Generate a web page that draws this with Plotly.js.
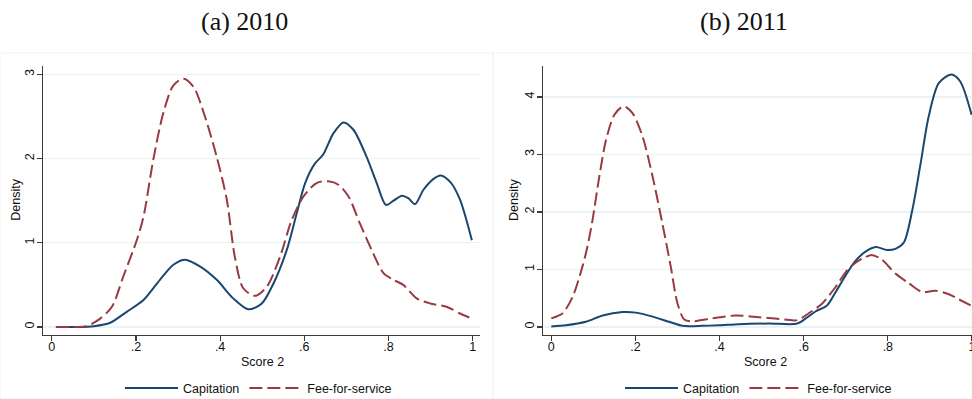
<!DOCTYPE html>
<html>
<head>
<meta charset="utf-8">
<script src="https://cdn.plot.ly/plotly-3.0.1.min.js"></script>
<style>html,body{margin:0;padding:0;background:#fff;}#chart{width:972px;height:399px;}</style>
</head>
<body>
<div id="chart"></div>
<script>
// ---- Data (kernel density curves) ----
const panelTitles = ["(a) 2010", "(b) 2011"];
const seriesNames = ["Capitation", "Fee-for-service"];
const xTitle = "Score 2";
const yTitle = "Density";
const xTickVals = [0, 0.2, 0.4, 0.6, 0.8, 1];
const xTickText = ["0", ".2", ".4", ".6", ".8", "1"];
const yTickVals2010 = [0, 1, 2, 3];
const yTickVals2011 = [0, 1, 2, 3, 4];

// 2010 Capitation
const cap2010X = [0.01,0.06,0.10,0.139,0.178,0.218,0.257,0.289,0.317,0.352,0.392,0.431,0.467,0.499,0.527,0.558,0.582,0.602,0.625,0.645,0.669,0.693,0.717,0.748,0.772,0.794,0.812,0.832,0.847,0.863,0.883,0.907,0.924,0.947,0.970,0.998];
const cap2010Y = [0.0,0.0,0.01,0.05,0.18,0.32,0.56,0.74,0.80,0.72,0.56,0.34,0.21,0.28,0.52,0.91,1.35,1.71,1.94,2.05,2.30,2.43,2.34,2.02,1.71,1.45,1.50,1.56,1.53,1.46,1.63,1.76,1.80,1.72,1.51,1.03];
// 2010 Fee-for-service
const ffs2010X = [0.01,0.05,0.083,0.115,0.143,0.170,0.202,0.218,0.241,0.265,0.289,0.313,0.337,0.364,0.392,0.416,0.435,0.455,0.483,0.511,0.542,0.570,0.598,0.629,0.657,0.681,0.705,0.732,0.764,0.788,0.812,0.835,0.867,0.899,0.938,0.970,0.998];
const ffs2010Y = [0.0,0.0,0.01,0.10,0.24,0.60,1.03,1.31,1.98,2.54,2.87,2.95,2.85,2.50,2.02,1.51,0.83,0.46,0.37,0.48,0.83,1.27,1.55,1.71,1.73,1.69,1.55,1.23,0.87,0.64,0.56,0.50,0.34,0.28,0.24,0.16,0.10];
// 2011 Capitation
const cap2011X = [0.0,0.035,0.082,0.122,0.169,0.201,0.241,0.280,0.312,0.359,0.399,0.446,0.518,0.585,0.605,0.628,0.656,0.676,0.700,0.723,0.747,0.771,0.798,0.818,0.838,0.858,0.878,0.897,0.921,0.951,0.972,0.999];
const cap2011Y = [0.01,0.03,0.09,0.20,0.26,0.25,0.18,0.09,0.02,0.02,0.03,0.05,0.06,0.06,0.15,0.27,0.38,0.61,0.90,1.15,1.31,1.39,1.34,1.36,1.47,2.03,2.85,3.66,4.24,4.39,4.27,3.69];
// 2011 Fee-for-service
const ffs2011X = [0.0,0.027,0.051,0.074,0.086,0.098,0.114,0.130,0.150,0.172,0.193,0.217,0.241,0.264,0.284,0.300,0.316,0.335,0.383,0.438,0.494,0.541,0.585,0.612,0.644,0.676,0.707,0.739,0.763,0.786,0.818,0.850,0.881,0.913,0.945,0.969,0.999];
const ffs2011Y = [0.15,0.24,0.53,1.05,1.40,1.86,2.61,3.25,3.69,3.84,3.72,3.31,2.61,1.80,1.05,0.41,0.13,0.10,0.15,0.20,0.17,0.14,0.12,0.24,0.41,0.70,1.02,1.19,1.25,1.17,0.93,0.76,0.61,0.63,0.57,0.48,0.37];

// ---- Styles ----
const capColor = "#1a476f";
const ffsColor = "#983a41";
const sans = "Liberation Sans, Arial, sans-serif";
const textColor = "#111";

function capTrace(x, y, xa, ya, lg) {
  return {x: x, y: y, xaxis: xa, yaxis: ya, type: "scatter", mode: "lines", name: seriesNames[0],
    line: {color: capColor, width: 2, shape: "spline", smoothing: 0.8}, legend: lg, cliponaxis: true};
}
function ffsTrace(x, y, xa, ya, lg) {
  return {x: x, y: y, xaxis: xa, yaxis: ya, type: "scatter", mode: "lines", name: seriesNames[1],
    line: {color: ffsColor, width: 2, dash: "13px,5px", shape: "spline", smoothing: 0.8}, legend: lg, cliponaxis: true};
}

const data = [
  capTrace(cap2010X, cap2010Y, "x", "y", "legend"),
  ffsTrace(ffs2010X, ffs2010Y, "x", "y", "legend"),
  capTrace(cap2011X, cap2011Y, "x2", "y2", "legend2"),
  ffsTrace(ffs2011X, ffs2011Y, "x2", "y2", "legend2")
];

function xAxis(domain, range, anchor) {
  return {domain: domain, range: range, anchor: anchor, tickvals: xTickVals, ticktext: xTickText,
    showline: true, linecolor: "#3a3a3a", linewidth: 1.3, ticks: "outside", ticklen: 5, tickwidth: 1.2,
    tickcolor: "#3a3a3a", showgrid: false, zeroline: false, fixedrange: true,
    ticklabeloverflow: "allow", ticklabelstandoff: -5,
    tickfont: {family: sans, size: 12.5, color: textColor}, automargin: false};
}
function yAxis(domain, range, anchor, tv) {
  return {domain: domain, range: range, anchor: anchor, tickvals: tv, ticktext: tv.map(String), tickangle: -90,
    showline: true, linecolor: "#3a3a3a", linewidth: 1.3, ticks: "outside", ticklen: 5, tickwidth: 1.2,
    tickcolor: "#3a3a3a", showgrid: true, gridcolor: "#eaf2f3", gridwidth: 1.2, zeroline: false, fixedrange: true,
    ticklabelstandoff: -2,
    tickfont: {family: sans, size: 12.5, color: textColor}, automargin: false};
}

const yDom = [(399 - 335) / 399, (399 - 66) / 399];
const legendFont = {family: sans, size: 12.5, color: textColor};
const titleFont = {family: "Liberation Serif, Times New Roman, serif", size: 26, color: "#111"};
const axTitleFont = {family: sans, size: 12.5, color: textColor};
function legendCfg(xpx) {
  return {orientation: "h", x: xpx / 972, y: 10.7 / 399, xanchor: "left", yanchor: "middle",
    font: legendFont, itemwidth: 53, bgcolor: "rgba(0,0,0,0)", tracegroupgap: 0};
}
function ann(text, xpx, ypx, font, angle) {
  return {text: text, xref: "paper", yref: "paper", x: xpx / 972, y: (399 - ypx) / 399,
    xanchor: "center", yanchor: "middle", showarrow: false, font: font, textangle: angle || 0};
}

const layout = {
  width: 972, height: 399,
  margin: {l: 0, r: 0, t: 0, b: 0, autoexpand: false},
  paper_bgcolor: "#ffffff", plot_bgcolor: "#ffffff",
  showlegend: true,
  xaxis: xAxis([43 / 972, 480 / 972], [-0.0207, 1.0173], "y"),
  yaxis: yAxis(yDom, [-0.095, 3.10], "x", yTickVals2010),
  xaxis2: xAxis([543.3 / 972, 1], [-0.019, 1.0], "y2"),
  yaxis2: yAxis(yDom, [-0.139, 4.539], "x2", yTickVals2011),
  legend: legendCfg(120),
  legend2: legendCfg(620),
  annotations: [
    ann(panelTitles[0], 244, 21, titleFont),
    ann(panelTitles[1], 744, 21, titleFont),
    ann(yTitle, 15.7, 200, axTitleFont, -90),
    ann(yTitle, 514, 200, axTitleFont, -90),
    ann(xTitle, 262, 362, axTitleFont),
    ann(xTitle, 765, 362, axTitleFont)
  ],
  shapes: [
    {type: "rect", xref: "paper", yref: "paper", x0: 0, x1: 493 / 972, y0: 0, y1: (399 - 53) / 399,
      line: {color: "#f1f1f1", width: 1}, fillcolor: "rgba(0,0,0,0)", layer: "below"},
    {type: "rect", xref: "paper", yref: "paper", x0: 493 / 972, x1: 1, y0: 0, y1: (399 - 53) / 399,
      line: {color: "#f1f1f1", width: 1}, fillcolor: "rgba(0,0,0,0)", layer: "below"}
  ]
};

Plotly.newPlot("chart", data, layout, {staticPlot: true, displayModeBar: false});
</script>
</body>
</html>
